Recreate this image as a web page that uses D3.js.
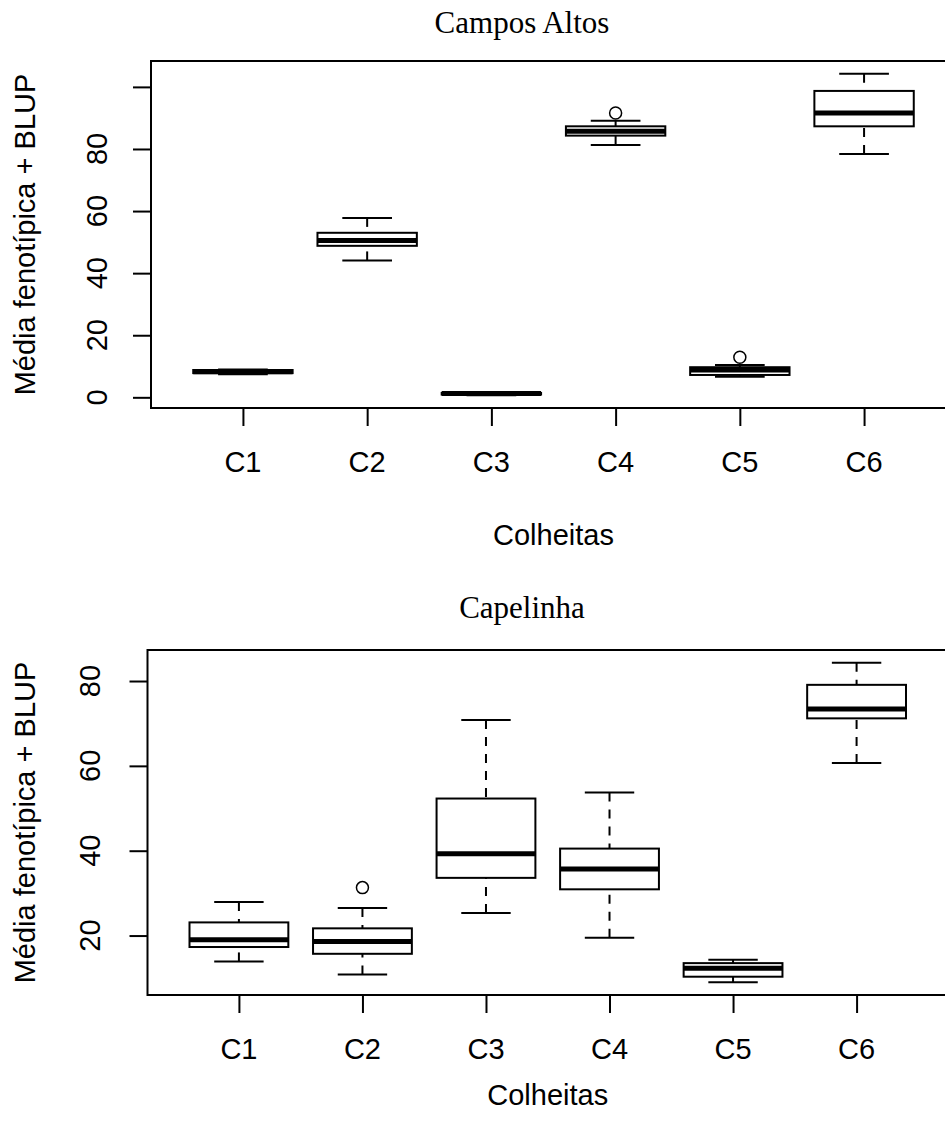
<!DOCTYPE html>
<html>
<head>
<meta charset="utf-8">
<script src="https://cdn.jsdelivr.net/npm/d3@7"></script>
<style>
  body { margin: 0; background: #fff; }
  text { fill: #000; }
  .sans { font-family: "Liberation Sans", Arial, sans-serif; font-size: 29px; }
  .serif { font-family: "Liberation Serif", "Times New Roman", serif; font-size: 31px; }
</style>
</head>
<body>
<svg width="945" height="1135"></svg>
<script>
// **** Data ****
var harvests = ['C1', 'C2', 'C3', 'C4', 'C5', 'C6'];

// Campos Altos
var camposMin = [7.4, 44.1, 0.7, 81.3, 6.6, 78.4];
var camposQ1  = [7.8, 48.8, 0.9, 84.3, 7.2, 87.3];
var camposMed = [8.2, 50.5, 1.2, 85.7, 8.8, 91.6];
var camposQ3  = [8.8, 53.0, 1.4, 87.3, 9.7, 98.7];
var camposMax = [9.0, 57.8, 1.7, 89.1, 10.4, 104.2];
var camposOut = [[], [], [], [91.6], [12.9], []];
var camposTicks = [0, 20, 40, 60, 80, 100];
var camposTickLabels = ['0', '20', '40', '60', '80', ''];

// Capelinha
var capeMin = [13.9, 10.8, 25.3, 19.5, 9.0, 60.7];
var capeQ1  = [17.3, 15.7, 33.6, 30.9, 10.3, 71.2];
var capeMed = [19.0, 18.6, 39.3, 35.7, 12.3, 73.4];
var capeQ3  = [23.1, 21.7, 52.3, 40.5, 13.5, 79.1];
var capeMax = [27.9, 26.5, 70.8, 53.7, 14.3, 84.3];
var capeOut = [[], [31.3], [], [], [], []];
var capeTicks = [20, 40, 60, 80];
var capeTickLabels = ['20', '40', '60', '80'];

var svg = d3.select('svg');
svg.append('rect').attr('width', 945).attr('height', 1135).attr('fill', '#fff');

function drawPanel(p) {
    var g = svg.append('g');

    // R style limits: data range extended by 4%
    var all = p.min.concat(p.max, [].concat.apply([], p.out));
    var lo = d3.min(all), hi = d3.max(all), ext = (hi - lo) * 0.04;

    var x = d3.scaleLinear().domain([0.26, 6.74]).range([p.left, p.right]);
    var y = d3.scaleLinear().domain([lo - ext, hi + ext]).range([p.bottom, p.top]);
    var step = x(2) - x(1);
    var boxW = step * 0.8, capW = boxW / 2;

    // frame
    g.append('rect')
        .attr('x', p.left).attr('y', p.top)
        .attr('width', p.right - p.left).attr('height', p.bottom - p.top)
        .attr('fill', 'none').attr('stroke', '#000').attr('stroke-width', 2);

    // y axis
    var yAxis = g.append('g')
        .attr('transform', 'translate(' + p.left + ',0)')
        .call(d3.axisLeft(y).tickValues(p.ticks).tickSize(18).tickFormat(''));
    yAxis.select('.domain').remove();
    yAxis.selectAll('line').attr('stroke', '#000').attr('stroke-width', 2);

    g.selectAll('.ylab')
        .data(p.ticks)
        .enter()
        .append('text')
        .attr('class', 'sans')
        .attr('transform', function(d) {
            return 'translate(' + p.ylabX + ',' + y(d) + ') rotate(-90)';
        })
        .style('text-anchor', 'middle')
        .text(function(d, i) { return p.tickLabels[i]; });

    // x axis
    var xAxis = g.append('g')
        .attr('transform', 'translate(0,' + p.bottom + ')')
        .call(d3.axisBottom(x).tickValues([1, 2, 3, 4, 5, 6]).tickSize(18).tickFormat(''));
    xAxis.select('.domain').remove();
    xAxis.selectAll('line').attr('stroke', '#000').attr('stroke-width', 2);

    g.selectAll('.xlab')
        .data(harvests)
        .enter()
        .append('text')
        .attr('class', 'sans')
        .attr('x', function(d, i) { return x(i + 1); })
        .attr('y', p.bottom + 64)
        .style('text-anchor', 'middle')
        .text(function(d) { return d; });

    // boxes
    var boxes = g.selectAll('.box')
        .data(harvests)
        .enter()
        .append('g')
        .attr('transform', function(d, i) { return 'translate(' + x(i + 1) + ',0)'; });

    // whiskers (dashed)
    boxes.append('line')
        .attr('y1', function(d, i) { return y(p.max[i]); })
        .attr('y2', function(d, i) { return y(p.q3[i]); })
        .attr('stroke', '#000').attr('stroke-width', 2).attr('stroke-dasharray', '9,8');
    boxes.append('line')
        .attr('y1', function(d, i) { return y(p.min[i]); })
        .attr('y2', function(d, i) { return y(p.q1[i]); })
        .attr('stroke', '#000').attr('stroke-width', 2).attr('stroke-dasharray', '9,8');

    // caps
    boxes.append('line')
        .attr('x1', -capW / 2).attr('x2', capW / 2)
        .attr('y1', function(d, i) { return y(p.max[i]); })
        .attr('y2', function(d, i) { return y(p.max[i]); })
        .attr('stroke', '#000').attr('stroke-width', 2);
    boxes.append('line')
        .attr('x1', -capW / 2).attr('x2', capW / 2)
        .attr('y1', function(d, i) { return y(p.min[i]); })
        .attr('y2', function(d, i) { return y(p.min[i]); })
        .attr('stroke', '#000').attr('stroke-width', 2);

    // box
    boxes.append('rect')
        .attr('x', -boxW / 2).attr('width', boxW)
        .attr('y', function(d, i) { return y(p.q3[i]); })
        .attr('height', function(d, i) { return y(p.q1[i]) - y(p.q3[i]); })
        .attr('fill', '#fff').attr('stroke', '#000').attr('stroke-width', 2);

    // median
    boxes.append('line')
        .attr('x1', -boxW / 2).attr('x2', boxW / 2)
        .attr('y1', function(d, i) { return y(p.med[i]); })
        .attr('y2', function(d, i) { return y(p.med[i]); })
        .attr('stroke', '#000').attr('stroke-width', 5);

    // outliers
    boxes.selectAll('circle')
        .data(function(d, i) { return p.out[i]; })
        .enter()
        .append('circle')
        .attr('cy', function(v) { return y(v); })
        .attr('r', 6)
        .attr('fill', 'none').attr('stroke', '#000').attr('stroke-width', 1.5);

    // titles
    g.append('text')
        .attr('class', 'serif')
        .attr('x', 522).attr('y', p.titleY)
        .style('text-anchor', 'middle')
        .text(p.title);

    g.append('text')
        .attr('class', 'sans')
        .attr('x', (p.left + p.right) / 2).attr('y', p.xTitleY)
        .style('text-anchor', 'middle')
        .text('Colheitas');

    g.append('text')
        .attr('class', 'sans')
        .attr('transform', 'translate(35,' + (p.top + p.bottom) / 2 + ') rotate(-90)')
        .style('text-anchor', 'middle')
        .text('Média fenotípica + BLUP');
}

drawPanel({
    title: 'Campos Altos', titleY: 33, xTitleY: 545,
    left: 151, right: 956, top: 61, bottom: 408, ylabX: 107,
    min: camposMin, q1: camposQ1, med: camposMed, q3: camposQ3, max: camposMax, out: camposOut,
    ticks: camposTicks, tickLabels: camposTickLabels
});

drawPanel({
    title: 'Capelinha', titleY: 618, xTitleY: 1105,
    left: 147.5, right: 948, top: 650, bottom: 995, ylabX: 100,
    min: capeMin, q1: capeQ1, med: capeMed, q3: capeQ3, max: capeMax, out: capeOut,
    ticks: capeTicks, tickLabels: capeTickLabels
});
</script>
</body>
</html>
